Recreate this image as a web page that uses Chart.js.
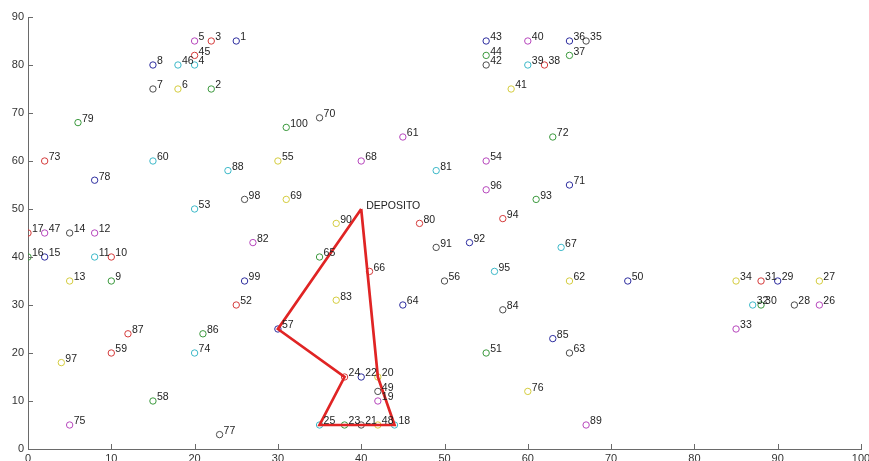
<!DOCTYPE html>
<html>
<head>
<meta charset="utf-8">
<script src="https://cdn.jsdelivr.net/npm/chart.js@4.4.0/dist/chart.umd.min.js"></script>
<style>
html, body { margin: 0; padding: 0; background: #fff; }
#wrap { width: 869px; height: 461px; }
</style>
</head>
<body>
<div id="wrap"><canvas id="myChart-ruta"></canvas></div>
<script>
// clientes 1..100
const xs = [25, 22, 22, 20, 20, 18, 15, 15, 10, 10,
            8, 8, 5, 5, 2, 0, 0, 44, 42, 42,
            40, 40, 38, 38, 35, 95, 95, 92, 90, 88,
            88, 87, 85, 85, 67, 65, 65, 62, 60, 60,
            58, 55, 55, 55, 20, 18, 2, 42, 42, 72,
            55, 25, 20, 55, 30, 50, 30, 15, 10, 15,
            45, 65, 65, 45, 35, 41, 64, 40, 31, 35,
            65, 63, 2, 20, 5, 60, 23, 8, 6, 47,
            49, 27, 37, 57, 63, 21, 12, 24, 67, 37,
            49, 53, 61, 57, 56, 55, 4, 26, 26, 31];
const ys = [85, 75, 85, 80, 85, 75, 75, 80, 35, 40,
            40, 45, 35, 45, 40, 40, 45, 5, 10, 15,
            5, 15, 5, 15, 5, 30, 35, 30, 35, 30,
            35, 30, 25, 35, 85, 85, 82, 80, 80, 85,
            75, 80, 85, 82, 82, 80, 45, 5, 12, 35,
            20, 30, 50, 60, 60, 35, 25, 10, 20, 60,
            65, 35, 20, 30, 40, 37, 42, 60, 52, 69,
            55, 65, 60, 20, 5, 12, 3, 56, 68, 47,
            58, 43, 31, 29, 23, 24, 24, 58, 5, 47,
            42, 43, 52, 48, 37, 54, 18, 52, 35, 67];

// deposito y ruta (0 = deposito)
const depot = [40, 50];
const route = [0, 57, 24, 25, 23, 21, 48, 18, 20, 0];

const xTicks = [0, 10, 20, 30, 40, 50, 60, 70, 80, 90, 100];
const yTicks = [0, 10, 20, 30, 40, 50, 60, 70, 80, 90];

// colores tipo matlab b g r c m y k
const palette = ['#2c2c9e', '#3a983c', '#d43a3a', '#3cb8c8', '#b646bc', '#d4cc3e', '#4c4c4c'];

const clientes = xs.map((x, i) => ({ x: x, y: ys[i] }));
const colores = xs.map((x, i) => palette[i % palette.length]);
const ruta = route.map(n => n === 0 ? { x: depot[0], y: depot[1] } : { x: xs[n - 1], y: ys[n - 1] });

const innerTicks = {
    id: 'innerTicks',
    afterDraw(chart) {
        const { ctx, chartArea, scales } = chart;
        ctx.save();
        ctx.strokeStyle = '#6a6a6a';
        ctx.lineWidth = 1;
        ctx.beginPath();
        xTicks.forEach(v => {
            const px = Math.round(scales.x.getPixelForValue(v)) + 0.5;
            ctx.moveTo(px, chartArea.bottom);
            ctx.lineTo(px, chartArea.bottom - 5);
        });
        yTicks.forEach(v => {
            const py = Math.round(scales.y.getPixelForValue(v)) + 0.5;
            ctx.moveTo(chartArea.left, py);
            ctx.lineTo(chartArea.left + 5, py);
        });
        ctx.stroke();
        ctx.restore();
    }
};

const pointLabels = {
    id: 'pointLabels',
    afterDatasetsDraw(chart) {
        const ctx = chart.ctx;
        ctx.save();
        ctx.font = '10.5px "Liberation Sans", Arial, sans-serif';
        ctx.fillStyle = '#1e1e1e';
        ctx.textAlign = 'left';
        ctx.textBaseline = 'middle';
        chart.getDatasetMeta(1).data.forEach((pt, i) => {
            ctx.fillText(String(i + 1), pt.x + 4, pt.y - 3.5);
        });
        const d = chart.getDatasetMeta(0).data[0];
        ctx.fillText('DEPOSITO', d.x + 5, d.y - 3);
        ctx.restore();
    }
};

const ctx1 = document.getElementById('myChart-ruta').getContext('2d');
const myChart1 = new Chart(ctx1, {
    type: 'scatter',
    data: {
        datasets: [{
            label: 'Ruta',
            data: ruta,
            showLine: true,
            borderColor: '#e02424',
            borderWidth: 2.7,
            borderJoinStyle: 'miter',
            pointRadius: 0,
            tension: 0,
            order: 1
        }, {
            label: 'Clientes',
            data: clientes,
            pointRadius: 3.2,
            pointHoverRadius: 3.2,
            pointBorderWidth: 1,
            pointBorderColor: colores,
            pointBackgroundColor: 'rgba(0,0,0,0)',
            showLine: false,
            order: 2
        }]
    },
    options: {
        responsive: true,
        maintainAspectRatio: false,
        devicePixelRatio: 1,
        animation: false,
        layout: { padding: { top: 17, right: 8, left: 0, bottom: 0 } },
        plugins: {
            legend: { display: false },
            tooltip: { enabled: false }
        },
        scales: {
            x: {
                type: 'linear',
                min: 0,
                max: 100,
                afterBuildTicks: s => { s.ticks = xTicks.map(v => ({ value: v })); },
                afterFit: s => { s.height = 12; s.paddingLeft = 0; s.paddingRight = 0; },
                grid: { display: false, drawTicks: false },
                border: { display: true, color: '#6a6a6a', width: 1 },
                ticks: {
                    padding: 3,
                    maxRotation: 0,
                    color: '#333',
                    font: { family: '"Liberation Sans", Arial, sans-serif', size: 11 }
                }
            },
            y: {
                type: 'linear',
                min: 0,
                max: 90,
                afterBuildTicks: s => { s.ticks = yTicks.map(v => ({ value: v })); },
                afterFit: s => { s.width = 28; s.paddingTop = 0; s.paddingBottom = 0; },
                grid: { display: false, drawTicks: false },
                border: { display: true, color: '#6a6a6a', width: 1 },
                ticks: {
                    padding: 4,
                    color: '#333',
                    font: { family: '"Liberation Sans", Arial, sans-serif', size: 11 }
                }
            }
        }
    },
    plugins: [innerTicks, pointLabels]
});
</script>
</body>
</html>
